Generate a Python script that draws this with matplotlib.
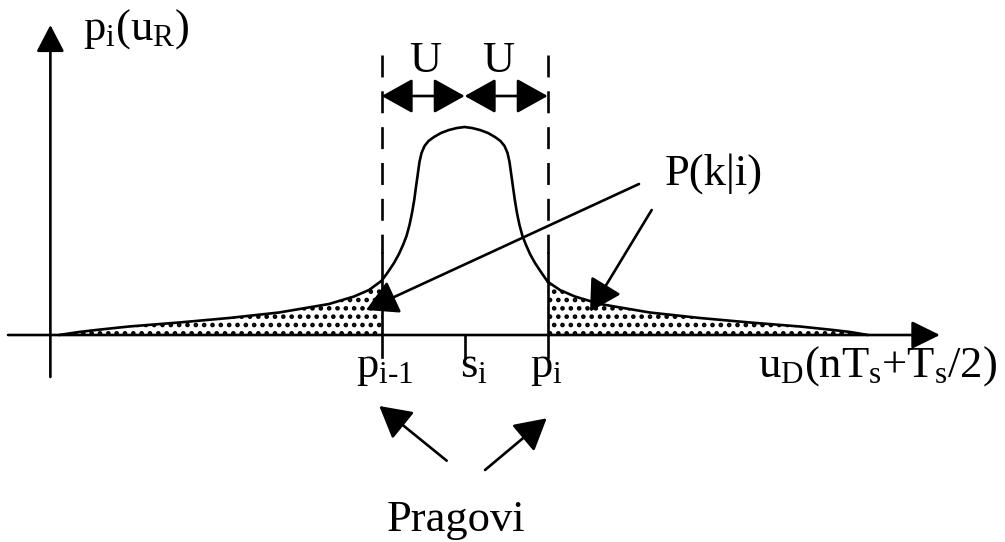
import matplotlib
matplotlib.use("Agg")
import matplotlib.pyplot as plt

plt.rcParams['font.family'] = ['Liberation Serif', 'DejaVu Serif']
plt.rcParams['mathtext.fontset'] = 'custom'
plt.rcParams['mathtext.rm'] = 'Liberation Serif'
plt.rcParams['mathtext.it'] = 'Liberation Serif:italic'
plt.rcParams['mathtext.bf'] = 'Liberation Serif:bold'
plt.rcParams['hatch.linewidth'] = 2.1
plt.rcParams['hatch.color'] = 'black'
plt.rcParams['lines.scale_dashes'] = False

# ---------------- data (u in units of U, s_i = 0; density arbitrary) ----------------
thresholds = [-1.0, 1.0]          # p_{i-1}, p_i
symbol_pos = 0.0                  # s_i

left_tail_u = [-4.888, -4.647, -4.442, -4.045, -3.442, -2.840, -2.237, -1.635, -1.515, -1.334, -1.153, -1.0]
left_tail_d = [0.000, 0.030, 0.050, 0.085, 0.125, 0.170, 0.225, 0.310, 0.340, 0.385, 0.450, 0.543]

center_u = [-1.000, -0.924, -0.852, -0.792, -0.743, -0.701, -0.665, -0.635, -0.608, -0.587,
            -0.565, -0.545, -0.520, -0.484, -0.436, -0.370, -0.286, -0.190, -0.093, -0.002,
            0.088, 0.184, 0.281, 0.365, 0.431, 0.480, 0.516, 0.540, 0.560, 0.582,
            0.604, 0.630, 0.660, 0.696, 0.739, 0.787, 0.847, 0.919, 1.000]
center_d = [0.543, 0.630, 0.720, 0.810, 0.900, 0.990, 1.100, 1.220, 1.350, 1.480,
            1.610, 1.730, 1.820, 1.890, 1.940, 1.980, 2.020, 2.050, 2.070, 2.080,
            2.070, 2.050, 2.020, 1.980, 1.940, 1.890, 1.820, 1.730, 1.610, 1.480,
            1.350, 1.220, 1.100, 0.990, 0.900, 0.810, 0.720, 0.630, 0.533]

right_tail_u = [1.0, 1.148, 1.328, 1.508, 1.630, 2.230, 2.835, 3.437, 4.040, 4.440, 4.645, 4.859]
right_tail_d = [0.533, 0.450, 0.385, 0.340, 0.310, 0.225, 0.170, 0.125, 0.085, 0.050, 0.030, 0.000]

# ---------------- figure ----------------
fig = plt.figure(figsize=(10.05, 5.42), dpi=100)
ax = fig.add_axes([0, 0, 1, 1])
ax.set_xlim(-5.599, 6.510)
ax.set_ylim(-2.07, 3.35)
ax.axis('off')

LW = 1.9
FS = 32

# stippled tails
ax.fill_between(left_tail_u, 0, left_tail_d, facecolor='white', edgecolor='black',
                hatch='..', linewidth=0, zorder=1)
ax.fill_between(right_tail_u, 0, right_tail_d, facecolor='white', edgecolor='black',
                hatch='..', linewidth=0, zorder=1)

# density curve
ax.plot(left_tail_u, left_tail_d, color='black', lw=LW, zorder=3, solid_capstyle='round')
ax.plot(center_u, center_d, color='black', lw=LW, zorder=3, solid_capstyle='round',
        solid_joinstyle='round')
ax.plot(right_tail_u, right_tail_d, color='black', lw=LW, zorder=3, solid_capstyle='round')

def arrow(tail, tip, hl=1.94, hw=1.08, style='-|>'):
    ax.annotate('', xy=tip, xytext=tail,
                arrowprops=dict(arrowstyle=f'{style},head_length={hl},head_width={hw}',
                                mutation_scale=10, color='black', lw=LW,
                                shrinkA=0, shrinkB=0), zorder=4)

# axes with arrows
arrow((-5.502, 0.0), (5.726, 0.0), hl=1.75, hw=0.86)
arrow((-4.992, -0.42), (-4.992, 3.10), hl=1.65, hw=0.86)

# thresholds: dashed upper part, solid lower part
for t in thresholds:
    ax.plot([t, t], [2.80, 0.82], color='black', lw=LW, dashes=(15.8, 10.0), zorder=2)
    ax.plot([t, t], [0.82, -0.22], color='black', lw=LW, zorder=2)
ax.plot([symbol_pos, symbol_pos], [0.0, -0.23], color='black', lw=LW, zorder=2)

# U double arrows
arrow((thresholds[0], 2.39), (symbol_pos, 2.39), style='<|-|>')
arrow((symbol_pos, 2.39), (thresholds[1], 2.39), style='<|-|>')
ax.text(-0.478, 2.63, 'U', fontsize=FS, ha='center', va='baseline')
ax.text(0.401, 2.63, 'U', fontsize=FS, ha='center', va='baseline')

# P(k|i) arrows
arrow((2.10, 1.51), (-1.189, 0.25))
arrow((2.253, 1.25), (1.51, 0.233))
ax.text(2.413, 1.50, 'P(k|i)', fontsize=FS, ha='left', va='baseline')

# Pragovi arrows
arrow((-0.217, -1.257), (-1.029, -0.71))
arrow((0.245, -1.35), (0.988, -0.833))
ax.text(-0.94, -1.965, 'Pragovi', fontsize=FS, ha='left', va='baseline')

# labels
ax.text(-4.599, 2.95, r'$\mathrm{p_{i}(u_{R})}$', fontsize=FS, ha='left', va='baseline')
ax.text(-1.31, -0.42, r'$\mathrm{p_{i\text{-}1}}$', fontsize=FS, ha='left', va='baseline')
ax.text(-0.057, -0.42, r'$\mathrm{s_{i}}$', fontsize=FS, ha='left', va='baseline')
ax.text(0.787, -0.42, r'$\mathrm{p_{i}}$', fontsize=FS, ha='left', va='baseline')
ax.text(3.534, -0.42, r'$\mathrm{u_{D}(nT_{s}}\text{+}\mathrm{T_{s}/2)}$', fontsize=FS,
        ha='left', va='baseline')

fig.savefig('out.png', dpi=100)
